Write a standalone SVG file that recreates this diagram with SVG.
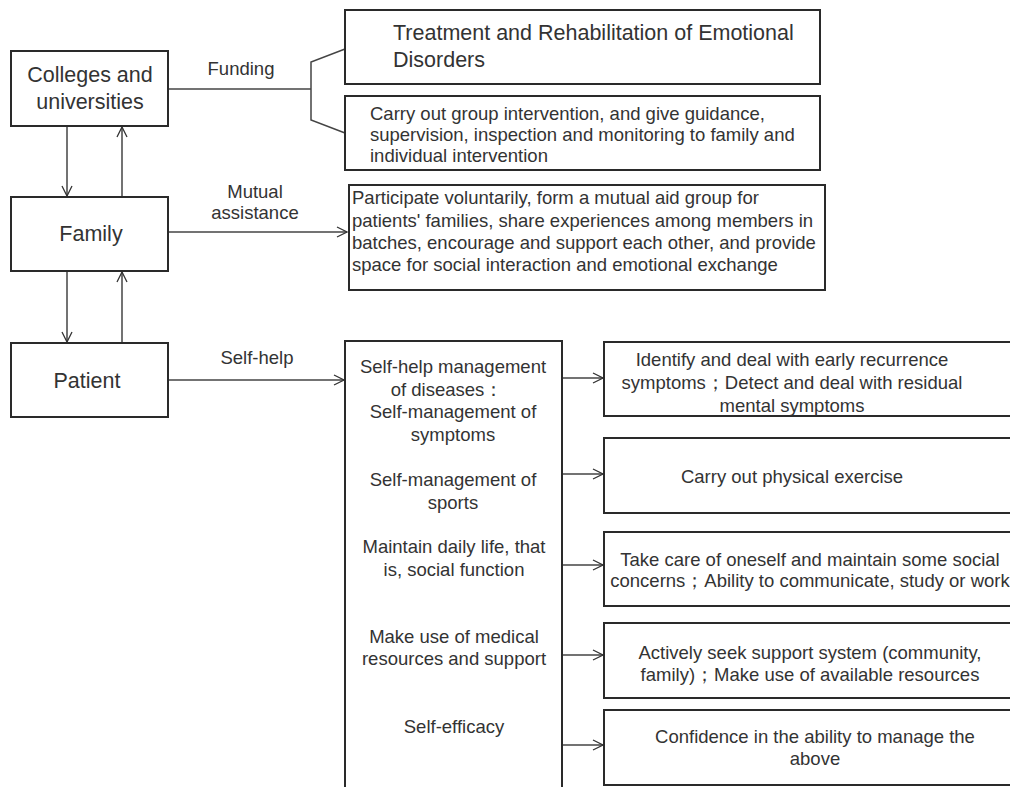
<svg xmlns="http://www.w3.org/2000/svg" width="1010" height="787" viewBox="0 0 1010 787">
<defs>
<marker id="arr" viewBox="0 0 12 12" refX="11" refY="6" markerWidth="12" markerHeight="12" markerUnits="userSpaceOnUse" orient="auto">
<path d="M1,1 L11,6 L1,11" fill="none" stroke="#333" stroke-width="1.3"/>
</marker>
<style>
.box{fill:#fff;stroke:#2a2a2a;stroke-width:2}
.ln{fill:none;stroke:#444;stroke-width:1.5}
text{font-family:"Liberation Sans",Arial,sans-serif;fill:#333}
.big{font-size:21.5px}
.md{font-size:18.5px}
.sm{font-size:18.5px}
.c{text-anchor:middle}
</style>
</defs>
<rect width="1010" height="787" fill="#fff"/>

<g id="connectors">
<line class="ln" x1="67" y1="126" x2="67" y2="196" marker-end="url(#arr)"/>
<line class="ln" x1="122" y1="196" x2="122" y2="127" marker-end="url(#arr)"/>
<line class="ln" x1="67" y1="271" x2="67" y2="342" marker-end="url(#arr)"/>
<line class="ln" x1="122" y1="342" x2="122" y2="272" marker-end="url(#arr)"/>
<line class="ln" x1="168" y1="89" x2="311" y2="89"/>
<polyline class="ln" points="345,49 311,62 311,120 345,133"/>
<line class="ln" x1="168" y1="232" x2="347" y2="232" marker-end="url(#arr)"/>
<line class="ln" x1="168" y1="380" x2="344" y2="380" marker-end="url(#arr)"/>
<line class="ln" x1="562" y1="378" x2="603" y2="378" marker-end="url(#arr)"/>
<line class="ln" x1="562" y1="474" x2="603" y2="474" marker-end="url(#arr)"/>
<line class="ln" x1="562" y1="565" x2="603" y2="565" marker-end="url(#arr)"/>
<line class="ln" x1="562" y1="655" x2="603" y2="655" marker-end="url(#arr)"/>
<line class="ln" x1="562" y1="745" x2="603" y2="745" marker-end="url(#arr)"/>
<text class="sm c" x="241" y="75">Funding</text>
<text class="sm c" x="255" y="198">Mutual</text>
<text class="sm c" x="255" y="219">assistance</text>
<text class="sm c" x="257" y="364">Self-help</text>
</g>

<g id="colleges">
<rect class="box" x="11" y="51" width="157" height="75"/>
<text class="big c" x="90" y="82">Colleges and</text>
<text class="big c" x="90" y="109">universities</text>
</g>

<g id="family">
<rect class="box" x="11" y="197" width="157" height="74"/>
<text class="big c" x="91" y="241">Family</text>
</g>

<g id="patient">
<rect class="box" x="11" y="343" width="157" height="74"/>
<text class="big c" x="87" y="388">Patient</text>
</g>

<g id="treatment">
<rect class="box" x="345" y="10" width="475" height="74"/>
<text class="big" x="393" y="40">Treatment and Rehabilitation of Emotional</text>
<text class="big" x="393" y="67">Disorders</text>
</g>

<g id="group-intervention">
<rect class="box" x="345" y="96" width="475" height="74"/>
<text class="md" x="370" y="120">Carry out group intervention, and give guidance,</text>
<text class="md" x="370" y="141">supervision, inspection and monitoring to family and</text>
<text class="md" x="370" y="162">individual intervention</text>
</g>

<g id="mutual-aid">
<rect class="box" x="349" y="185" width="476" height="105"/>
<text class="md" x="352" y="204">Participate voluntarily, form a mutual aid group for</text>
<text class="md" x="352" y="227">patients' families, share experiences among members in</text>
<text class="md" x="352" y="249">batches, encourage and support each other, and provide</text>
<text class="md" x="352" y="271">space for social interaction and emotional exchange</text>
</g>

<g id="self-help">
<rect class="box" x="345" y="341" width="217" height="460"/>
<text class="md c" x="453" y="373">Self-help management</text>
<text class="md c" x="447" y="396">of diseases：</text>
<text class="md c" x="453" y="418">Self-management of</text>
<text class="md c" x="453" y="441">symptoms</text>
<text class="md c" x="453" y="486">Self-management of</text>
<text class="md c" x="453" y="509">sports</text>
<text class="md c" x="454" y="553">Maintain daily life, that</text>
<text class="md c" x="454" y="576">is, social function</text>
<text class="md c" x="454" y="643">Make use of medical</text>
<text class="md c" x="454" y="665">resources and support</text>
<text class="md c" x="454" y="733">Self-efficacy</text>
</g>

<g id="symptoms">
<rect class="box" x="604" y="342" width="420" height="74"/>
<text class="md c" x="792" y="366">Identify and deal with early recurrence</text>
<text class="md c" x="792" y="389">symptoms；Detect and deal with residual</text>
<text class="md c" x="792" y="412">mental symptoms</text>
</g>

<g id="exercise">
<rect class="box" x="604" y="438" width="420" height="75"/>
<text class="md c" x="792" y="483">Carry out physical exercise</text>
</g>

<g id="social">
<rect class="box" x="604" y="532" width="420" height="74"/>
<text class="md c" x="810" y="566">Take care of oneself and maintain some social</text>
<text class="md c" x="810" y="587">concerns；Ability to communicate, study or work</text>
</g>

<g id="resources">
<rect class="box" x="604" y="623" width="420" height="75"/>
<text class="md c" x="810" y="659">Actively seek support system (community,</text>
<text class="md c" x="810" y="681">family)；Make use of available resources</text>
</g>

<g id="efficacy">
<rect class="box" x="604" y="710" width="420" height="75"/>
<text class="md c" x="815" y="743">Confidence in the ability to manage the</text>
<text class="md c" x="815" y="765">above</text>
</g>
</svg>
